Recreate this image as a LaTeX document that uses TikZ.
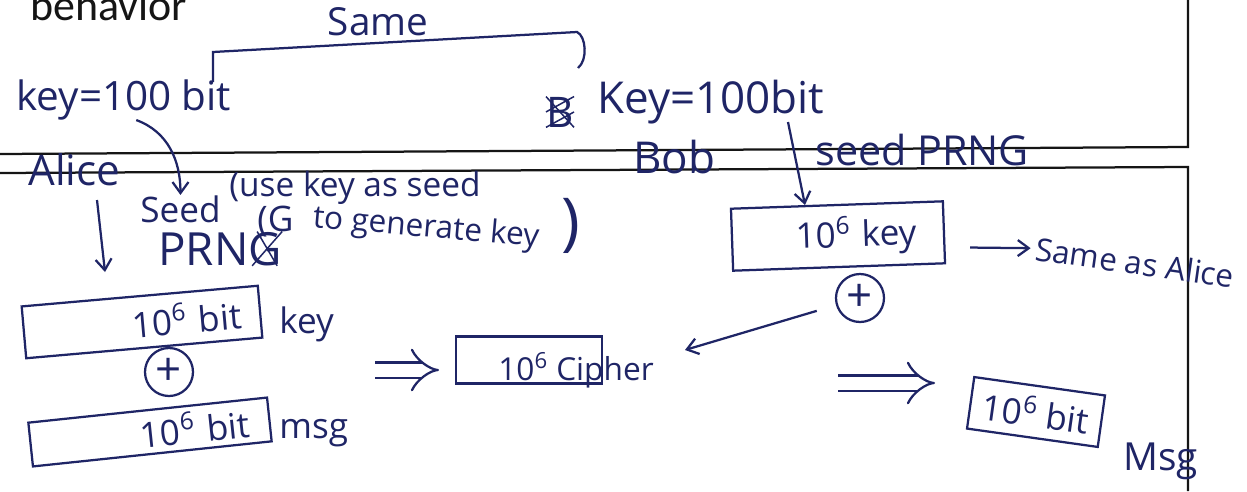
\documentclass[tikz,border=0pt]{standalone}
\usepackage{fontspec}
\setmainfont{Open Sans}
\newfontfamily\slidefont{Carlito}
\usetikzlibrary{arrows.meta,positioning,shapes.geometric}
\definecolor{noteInk}{HTML}{1F2566}
\definecolor{noteBlack}{HTML}{151515}
\tikzset{
  hand/.style={text=noteInk, font=\fontsize{20}{22}\selectfont, inner sep=0pt},
  handbox/.style={draw=noteInk, line width=0.45mm, text=noteInk, font=\fontsize{20}{22}\selectfont, inner ysep=0pt},
  xorc/.style={circle, draw=noteInk, line width=0.45mm, minimum size=9.6mm, inner sep=0pt, text=noteInk, font=\fontsize{26}{26}\selectfont},
  arr/.style={-{Straight Barb[length=2.2mm,width=3.2mm]}, line width=0.45mm, draw=noteInk},
  imply/.style={draw=noteInk, line width=0.45mm, double, double distance=2.6mm, -{Implies}},
  inkline/.style={draw=noteInk, line width=0.45mm},
  slide/.style={draw=noteBlack, line width=0.45mm}
}
\begin{document}
\begin{tikzpicture}[x=0.2mm,y=-0.2mm]
  \fill[white] (0,0) rectangle (1247,491);
  \path[use as bounding box, clip] (0,0) rectangle (1247,491);
  % slide frame
  \draw[slide] (0,154) -- (1188,147) -- (1188,0);
  \draw[slide] (0,173) -- (1188,167) -- (1188,491);
  \node[anchor=base west, inner sep=0pt, font=\slidefont\fontsize{25}{28}\selectfont, text=noteBlack] (behav) at (30,20) {behavior};
  % keys of both sides
  \node[hand, anchor=base west, font=\fontsize{23}{25}\selectfont] (alicekey) at (16,110) {key=100 bit};
  \node[hand, anchor=base west, font=\fontsize{25}{27}\selectfont] (bobkey) at (597,113) {Key=100bit};
  \node[hand, anchor=base west, font=\fontsize{24}{24}\selectfont] (scratch) at (546,127) {B};
  \draw[inkline, line width=0.3mm] (scratch.north west) -- (scratch.south east) (scratch.west) -- (scratch.north east) (scratch.south west) -- (scratch.east);
  \node[hand, anchor=base, font=\fontsize{22}{24}\selectfont] (samelbl) at (378,35) {Same};
  \draw[inkline] (213,82) -- (213,52) -- (577,32) .. controls (586,36) and (588,60) .. (578,68);
  % names
  \node[hand, anchor=base west, font=\fontsize{24}{26}\selectfont] (alice) at (28,185) {Alice};
  \node[hand, anchor=base west, font=\fontsize{25}{26}\selectfont] (bob) at (633,173) {Bob};
  % Alice side
  \node[hand, anchor=base west, font=\fontsize{19}{21}\selectfont] (usekey) at (229,196) {(use key as seed};
  \node[hand, anchor=base west] (seed) at (140,222) {Seed};
  \node[hand, anchor=base west] (paren) at (257,231) {(G};
  \node[hand, anchor=base west, rotate=-5, font=\fontsize{18}{20}\selectfont] (gen) at (312,227) {to generate key};
  \node[hand, font=\fontsize{36}{36}\selectfont] (closep) at (571,226) {)};
  \node[hand, anchor=base west, font=\fontsize{26}{28}\selectfont] (prng) at (158,265) {PRNG};
  \draw[inkline, line width=0.3mm] ([xshift=-5mm]prng.north east) -- ([xshift=-1mm]prng.south east) ([xshift=-6mm]prng.south east) -- (prng.north east);
  \draw[arr] ([xshift=2.5mm]alicekey.south) to[out=-20,in=90] (seed.north);
  \coordinate (adtop) at (97,200);
  \coordinate (adtip) at (105,272);
  \draw[arr] (adtop) -- (adtip);
  \node[handbox, rotate=5, minimum height=10.4mm, text width=39.8mm, align=right, inner xsep=3.8mm] (keybox) at (142,322) {10\textsuperscript{6} bit};
  \node[hand, anchor=base west] (keyword) at (279,333) {key};
  \node[xorc] (xorA) at (169,372) {+};
  \node[handbox, rotate=6, minimum height=8.8mm, text width=40mm, align=right, inner xsep=4mm] (msgbox) at (150,432) {10\textsuperscript{6} bit};
  \node[hand, anchor=base west] (msgword) at (279,438) {msg};
  \coordinate (imp1) at (375,370);
  \draw[imply, shorten >=2mm] (imp1) -- (imp1 -| 449,0);
  \node[handbox, minimum width=29.2mm, minimum height=9.4mm] (cipherbox) at (529,360) {};
  \node[hand, anchor=base west, font=\fontsize{18}{20}\selectfont] (cipher) at (498,380) {10\textsuperscript{6} Cipher};
  % Bob side
  \node[hand, anchor=base west, font=\fontsize{23.5}{25}\selectfont] (seedprng) at (815,165) {seed PRNG};
  \coordinate (bdtop) at (788,122);
  \coordinate (bdtip) at (805,205);
  \draw[arr] (bdtop) -- (bdtip);
  \node[handbox, rotate=2, minimum height=12.4mm, text width=31.6mm, align=right, inner xsep=5.4mm] (bobbox) at (838,236) {10\textsuperscript{6} key};
  \node[hand, anchor=base west, rotate=-8, font=\fontsize{18}{20}\selectfont] (sameas) at (1034,260) {Same as Alice};
  \draw[arr, shorten <=5mm, shorten >=1mm] ([yshift=-3mm]bobbox.east) -- (sameas.west);
  \node[xorc] (xorB) at (860,298) {+};
  \coordinate (ctip) at (685,350);
  \draw[arr, shorten <=4mm] (xorB) -- (ctip);
  \coordinate (imp2) at (838,383);
  \coordinate (imp2b) at (935,383);
  \draw[imply] (imp2) -- (imp2b);
  \node[handbox, rotate=-8, minimum width=26.4mm, minimum height=10.4mm] (bobmsg) at (1036,412) {10\textsuperscript{6} bit};
  \node[hand, anchor=base west, font=\fontsize{22}{24}\selectfont] (msgB) at (1123,470) {Msg};
\end{tikzpicture}
\end{document}
